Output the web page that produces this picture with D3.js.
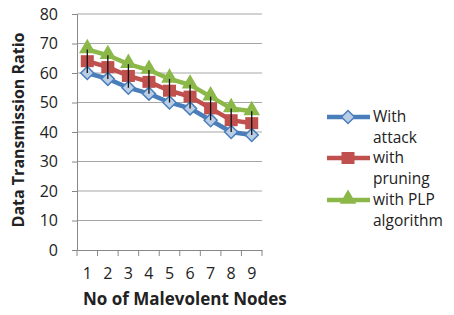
<!DOCTYPE html>
<html>
<head>
<meta charset="utf-8">
<script src="https://cdn.jsdelivr.net/npm/d3@7/dist/d3.min.js"></script>
<style>
  body { margin: 0; background: #fff; }
  svg text { font-family: "Open Sans", sans-serif; fill: #222; }
</style>
</head>
<body>
<div id="chart"></div>
<script>
const width = 454,
  height = 315;

// data
const nodes = ["1", "2", "3", "4", "5", "6", "7", "8", "9"];
const withAttack = [60, 58, 55, 53, 50, 48, 44, 40, 39];
const withPruning = [64, 62, 59, 57, 54, 52, 48, 44, 43];
const withPLP = [68, 66, 63, 61, 58, 56, 52, 48, 47];
const pruningError = [4, 4, 4, 4, 4, 4, 4, 4, 4];
const yTicks = [0, 10, 20, 30, 40, 50, 60, 70, 80];

const series = [
  { name: ["With", "attack"], values: withAttack, color: "#4a7ebb", shape: "diamond" },
  { name: ["with", "pruning"], values: withPruning, color: "#c0504d", shape: "square" },
  { name: ["with PLP", "algorithm"], values: withPLP, color: "#8cb84a", shape: "triangle" },
];

const plotLeft = 77, plotRight = 262, plotTop = 14, plotBottom = 250;

const svg = d3
  .select("#chart")
  .append("svg")
  .attr("width", width)
  .attr("height", height);

const x = d3.scaleBand().domain(nodes).range([plotLeft, plotRight]);
const y = d3.scaleLinear().domain([0, 80]).range([plotBottom, plotTop]);

// gridlines
svg
  .selectAll(".grid")
  .data(yTicks.filter((d) => d > 0))
  .enter()
  .append("line")
  .attr("x1", plotLeft)
  .attr("x2", plotRight)
  .attr("y1", (d) => y(d))
  .attr("y2", (d) => y(d))
  .attr("stroke", "#a6a6a6")
  .attr("stroke-width", 1);

// y axis
const yAxis = svg
  .append("g")
  .attr("transform", `translate(${plotLeft},0)`)
  .call(d3.axisLeft(y).tickValues(yTicks).tickSize(5).tickPadding(14));
yAxis.select(".domain").attr("stroke", "#888");
yAxis.selectAll(".tick line").attr("stroke", "#888");
yAxis.selectAll("text").attr("font-size", 16).attr("fill", "#222").style("font-family", "Open Sans, sans-serif");

// x axis
const xAxis = svg
  .append("g")
  .attr("transform", `translate(0,${plotBottom})`)
  .call(d3.axisBottom(x).tickSizeOuter(0).tickSize(0).tickPadding(18));
xAxis.select(".domain").attr("stroke", "#888");
xAxis.selectAll("text").attr("font-size", 16).attr("fill", "#222").style("font-family", "Open Sans, sans-serif");
// category boundary ticks
svg
  .selectAll(".xtick")
  .data(nodes.concat(["end"]))
  .enter()
  .append("line")
  .attr("x1", (d, i) => plotLeft + i * x.bandwidth())
  .attr("x2", (d, i) => plotLeft + i * x.bandwidth())
  .attr("y1", plotBottom)
  .attr("y2", plotBottom + 6)
  .attr("stroke", "#888");

// axis titles
svg
  .append("text")
  .attr("transform", `translate(24,130) rotate(-90)`)
  .attr("text-anchor", "middle")
  .attr("font-size", 16)
  .attr("font-weight", "bold")
  .text("Data Transmission Ratio");

svg
  .append("text")
  .attr("x", 83)
  .attr("y", 305)
  .attr("font-size", 17)
  .attr("font-weight", "bold")
  .text("No of Malevolent Nodes");

const cx = (i) => x(nodes[i]) + x.bandwidth() / 2;

function marker(g, shape, color, px, py) {
  if (shape === "diamond") {
    g.append("path")
      .attr("d", d3.symbol(d3.symbolSquare, 85)())
      .attr("transform", `translate(${px},${py}) rotate(45)`)
      .attr("fill", "#b9cde5")
      .attr("stroke", color)
      .attr("stroke-width", 1.5);
  } else if (shape === "square") {
    g.append("rect")
      .attr("x", px - 6.5)
      .attr("y", py - 6)
      .attr("width", 13)
      .attr("height", 12)
      .attr("fill", color);
  } else {
    g.append("path")
      .attr("d", d3.symbol(d3.symbolTriangle, 120)())
      .attr("transform", `translate(${px},${py - 1})`)
      .attr("fill", color);
  }
}

const line = d3
  .line()
  .x((d, i) => cx(i))
  .y((d) => y(d));

// PLP drawn first, attack last
[series[2], series[1], series[0]].forEach((s) => {
  svg
    .append("path")
    .datum(s.values)
    .attr("fill", "none")
    .attr("stroke", s.color)
    .attr("stroke-width", 4.5)
    .attr("d", line);
});
[series[2], series[1], series[0]].forEach((s) => {
  const g = svg.append("g");
  s.values.forEach((v, i) => marker(g, s.shape, s.color, cx(i), y(v)));
});

// error bars on pruning series
svg
  .selectAll(".err")
  .data(withPruning)
  .enter()
  .append("line")
  .attr("x1", (d, i) => cx(i))
  .attr("x2", (d, i) => cx(i))
  .attr("y1", (d, i) => y(d + pruningError[i]))
  .attr("y2", (d, i) => y(d - pruningError[i]))
  .attr("stroke", "#111")
  .attr("stroke-width", 1.3);

// legend
const legendY = [117, 158, 200];
series.forEach((s, k) => {
  const g = svg.append("g");
  const ly = legendY[k];
  g.append("line")
    .attr("x1", 327)
    .attr("x2", 370)
    .attr("y1", ly)
    .attr("y2", ly)
    .attr("stroke", s.color)
    .attr("stroke-width", 4.5);
  marker(g, s.shape, s.color, 348, ly);
  s.name.forEach((t, j) => {
    g.append("text")
      .attr("x", 373)
      .attr("y", ly + 5 + j * 21)
      .attr("font-size", 15.5)
      .text(t);
  });
});
</script>
</body>
</html>
